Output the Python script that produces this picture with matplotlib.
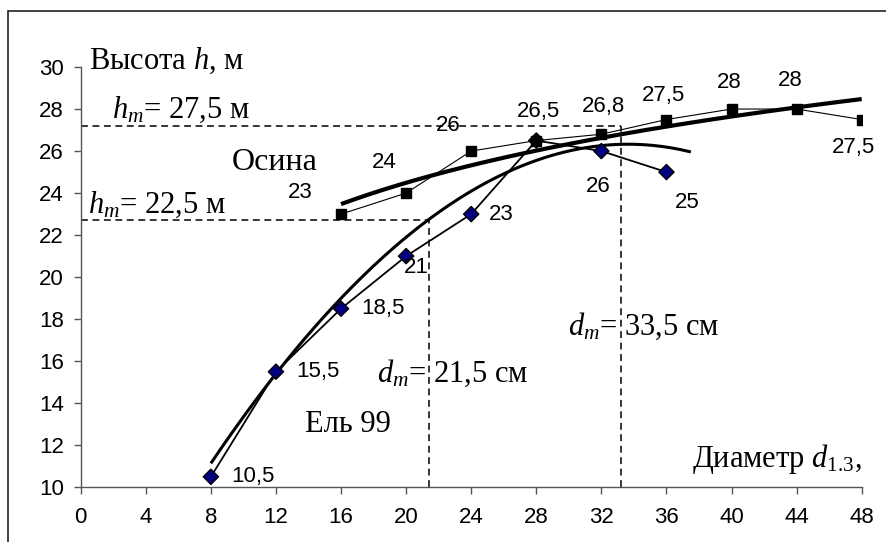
import numpy as np
import matplotlib
matplotlib.use("Agg")
import matplotlib.pyplot as plt
from matplotlib.patches import Rectangle

# ---- data ----
aspen_d = [16, 20, 24, 28, 32, 36, 40, 44, 48]
aspen_h = [23, 24, 26, 26.5, 26.8, 27.5, 28, 28, 27.5]
aspen_lbl = ["23", "24", "26", "26,5", "26,8", "27,5", "28", "28", "27,5"]

spruce_d = [8, 12, 16, 20, 24, 28, 32, 36]
spruce_h = [10.5, 15.5, 18.5, 21, 23, 26.5, 26, 25]
spruce_lbl = ["10,5", "15,5", "18,5", "21", "23", "", "26", "25"]

# spruce trend line: readings of the drawn trend curve (smoothed with a cubic)
spruce_trend_d = [8, 12, 16, 20, 21.4, 24, 28, 32, 37.5]
spruce_trend_h = [11.2, 15.4, 18.7, 22.0, 22.9, 24.2, 25.6, 26.0, 26.05]
aspen_trend_range = [16, 48]

hm_values = [22.7, 27.2]    # mean heights (dashed lines)
dm_values = [21.4, 33.2]    # mean diameters (dashed lines)

x_ticks = list(range(0, 49, 4))
y_ticks = list(range(10, 31, 2))

# ---- style ----
plt.rcParams['font.family'] = ['Liberation Sans', 'DejaVu Sans']
plt.rcParams['mathtext.fontset'] = 'custom'
plt.rcParams['mathtext.rm'] = 'Liberation Serif'
plt.rcParams['mathtext.it'] = 'Liberation Serif:italic'

W, H = 886, 542
fig = plt.figure(figsize=(W / 100, H / 100), dpi=100)
ax = fig.add_axes([80.7 / W, 1 - 487.3 / H, (861.7 - 80.7) / W, (487.3 - 67) / H])

# outer frame (clipped by figure edge on right/bottom)
fig.patches.append(Rectangle((8 / W, -0.1), 1.2, 1.1 - 11 / H,
                             transform=fig.transFigure, fill=False,
                             edgecolor='#222222', linewidth=1.2))

LBL = 16
ax.set_xlim(0, 48)
ax.set_ylim(10, 30)
ax.set_xticks(x_ticks)
ax.set_yticks(y_ticks)
for s in ['top', 'right']:
    ax.spines[s].set_visible(False)
for s in ['left', 'bottom']:
    ax.spines[s].set_color('#555555')
    ax.spines[s].set_linewidth(1.0)
ax.tick_params(axis='both', direction='out', length=5, width=1.0,
               color='#555555', labelsize=LBL, labelcolor='black')
ax.tick_params(axis='x', pad=9)
ax.tick_params(axis='y', pad=7)
ax.patch.set_alpha(0)

dash = (0, (4.5, 3))
# dashed reference lines
ax.plot([0, dm_values[0]], [hm_values[0], hm_values[0]], color='black', lw=1.1, ls=dash, clip_on=False)
ax.plot([dm_values[0], dm_values[0]], [10, hm_values[0]], color='black', lw=1.1, ls=dash, clip_on=False)
ax.plot([0, dm_values[1]], [hm_values[1], hm_values[1]], color='black', lw=1.1, ls=dash, clip_on=False)
ax.plot([dm_values[1], dm_values[1]], [10, hm_values[1]], color='black', lw=1.1, ls=dash, clip_on=False)

# trend lines
a_coef = np.polyfit(np.log(np.array(aspen_d, float)), np.array(aspen_h, float), 1)
xa = np.linspace(aspen_trend_range[0], aspen_trend_range[1], 200)
ax.plot(xa, np.polyval(a_coef, np.log(xa)), color='black', lw=3.0, solid_capstyle='butt', zorder=3)

s_coef = np.polyfit(np.array(spruce_trend_d, float), np.array(spruce_trend_h, float), 3)
xs = np.linspace(spruce_trend_d[0], spruce_trend_d[-1], 200)
ax.plot(xs, np.polyval(s_coef, xs), color='black', lw=2.2, solid_capstyle='butt', zorder=3)

# data series
ax.plot(aspen_d, aspen_h, color='black', lw=0.8, marker='s', ms=6.5,
        mfc='black', mec='black', zorder=4)
ax.plot(spruce_d, spruce_h, color='black', lw=1.3, zorder=4)
face = ['#000080'] * len(spruce_d)
face[5] = 'black'
ax.scatter(spruce_d, spruce_h, marker='D', s=60, c=face, edgecolors='black',
           linewidths=1.0, zorder=5)

# data labels (pixel offsets)
a_off = [(-41, 22), (-22, 31), (-23, 26), (2, 29), (2, 28), (-3, 24), (-2, 27), (-6, 29), (-8, -28)]
s_off = [(42, 0), (42, 0), (42, 0), (10, -11), (30, 0), (0, 0), (-3, -35), (21, -30)]
for x, y, t, (dx, dy) in zip(aspen_d, aspen_h, aspen_lbl, a_off):
    ax.annotate(t, (x, y), xytext=(dx * 0.72, dy * 0.72), textcoords='offset points',
                ha='center', va='center', fontsize=LBL, zorder=6)
for x, y, t, (dx, dy) in zip(spruce_d, spruce_h, spruce_lbl, s_off):
    if t:
        ax.annotate(t, (x, y), xytext=(dx * 0.72, dy * 0.72), textcoords='offset points',
                    ha='center', va='center', fontsize=LBL, zorder=6)

# serif annotations (positions in figure pixels)
def ftxt(x, y, s, size=22):
    fig.text(x / W, 1 - y / H, s, family='Liberation Serif', fontsize=size,
             va='baseline', ha='left')

ftxt(89, 69, "Высота $\\mathit{h}$, м")
ftxt(112, 118, "$\\mathit{h_m}$= 27,5 м")
ftxt(88, 213, "$\\mathit{h_m}$= 22,5 м")
ftxt(232, 170, "Осина", 23)
ftxt(305, 432, "Ель 99")
ftxt(377, 382, "$\\mathit{d_m}$= 21,5 см")
ftxt(568, 335, "$\\mathit{d_m}$= 33,5 см")
ftxt(692, 467, "Диаметр $\\mathit{d}_{\\mathrm{1.3}}$,")

fig.savefig("out.png", dpi=100)
